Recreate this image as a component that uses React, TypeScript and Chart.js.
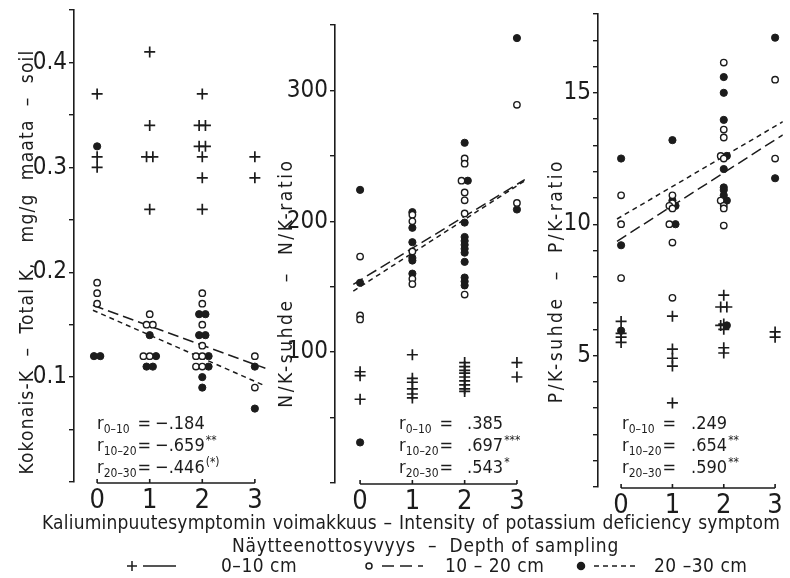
import React, { useEffect, useRef } from "react";
import { Chart, registerables } from "chart.js";

Chart.register(...registerables);

const FONT = "'DejaVu Sans Condensed', 'DejaVu Sans', sans-serif";
const TICK_FONT = "'Liberation Sans Narrow', 'DejaVu Sans Condensed', sans-serif";
const INK = "#1c1c1c";
const W = 790;
const H = 578;

// Intensity classes of the potassium deficiency symptom (x axis)
const intensityClasses = [0, 1, 2, 3];

// Total K, mg/g soil; one inner list per intensity class
const totalK_0_10 = [[0.37, 0.31, 0.3], [0.41, 0.34, 0.31, 0.31, 0.26], [0.37, 0.34, 0.34, 0.32, 0.32, 0.31, 0.29, 0.26], [0.31, 0.29]];
const totalK_10_20 = [[0.19, 0.18, 0.17], [0.16, 0.15, 0.15, 0.12, 0.12], [0.18, 0.17, 0.15, 0.13, 0.12, 0.12, 0.11, 0.11], [0.12, 0.09]];
const totalK_20_30 = [[0.32, 0.12, 0.12], [0.14, 0.12, 0.11, 0.11], [0.16, 0.16, 0.14, 0.14, 0.12, 0.11, 0.1, 0.09], [0.11, 0.07]];

// N/K ratio
const nk_0_10 = [[85, 82, 64], [98, 80, 77, 72, 68, 65], [92, 89, 86, 84, 81, 78, 75, 72, 70], [92, 81]];
const nk_10_20 = [[173, 128, 125], [205, 200, 177, 156, 152], [248, 244, 231, 222, 216, 206, 144], [289, 214]];
const nk_20_30 = [[224, 153, 31], [207, 195, 184, 172, 170, 160], [260, 231, 199, 188, 185, 182, 179, 176, 169, 157, 154, 151], [340, 209]];

// P/K ratio
const pk_0_10 = [[6.3, 5.85, 5.7, 5.5], [6.5, 5.25, 4.9, 4.6, 3.2], [7.3, 6.85, 6.85, 6.2, 6.15, 6.0, 5.3, 5.1], [5.9, 5.7]];
const pk_10_20 = [[11.1, 10.0, 7.95], [11.1, 10.8, 10.7, 10.6, 10.0, 9.3, 7.2], [16.15, 13.6, 13.3, 12.6, 12.5, 10.9, 10.7, 10.6, 9.95], [15.5, 12.5]];
const pk_20_30 = [[12.5, 9.2, 5.95], [13.2, 10.9, 10.7, 10.0], [15.6, 15.0, 13.97, 12.6, 12.1, 11.4, 11.3, 11.1, 10.9, 6.15], [17.1, 11.75]];

// Regression lines [intercept, slope] for the 10–20 cm and 20–30 cm layers
const totalKFit_10_20 = [0.167, -0.0183];
const totalKFit_20_30 = [0.162, -0.022];
const nkFit_10_20 = [155, 24.4];
const nkFit_20_30 = [150, 25.7];
const pkFit_10_20 = [9.45, 1.254];
const pkFit_20_30 = [10.29, 1.146];

// Correlation coefficients per sampling depth
const depthLabels = ["0–10", "10–20", "20–30"];
const totalKr = ["−.184", "−.659", "−.446"];
const totalKsig = ["", "**", "(*)"];
const nkR = [".385", ".697", ".543"];
const nkSig = ["", "***", "*"];
const pkR = [".249", ".654", ".590"];
const pkSig = ["", "**", "**"];

type Pt = { x: number; y: number };

// Places the three depth series on the class positions; equal values in one
// class are set side by side so every sample stays visible.
function placeSeries(series: number[][][]): Pt[][] {
  const out: Pt[][] = series.map(() => []);
  intensityClasses.forEach((cls, ci) => {
    const groups = new Map<string, { s: number; y: number }[]>();
    series.forEach((rows, s) => {
      (rows[ci] || []).forEach((y) => {
        const key = y.toFixed(3);
        if (!groups.has(key)) groups.set(key, []);
        groups.get(key)!.push({ s, y });
      });
    });
    groups.forEach((items) => {
      const n = items.length;
      items.forEach((it, k) => {
        out[it.s].push({ x: cls + (k - (n - 1) / 2) * 0.12, y: it.y });
      });
    });
  });
  return out;
}

function fitLine(fit: number[], range: [number, number]): Pt[] {
  return range.map((x) => ({ x, y: fit[0] + fit[1] * x }));
}

type PanelCfg = {
  series: number[][][];
  fits: number[][];
  fitRange: [number, number];
  left: number;
  right: number;
  top: number;
  bottom: number;
  xMin: number;
  xMax: number;
  yMax: number;
  yStep: number;
  labelEvery: number;
  decimals: number;
};

// Horizontal axis drawn only across the symptom classes, with short up-ticks
const bottomAxis = {
  id: "bottomAxis",
  afterDraw(chart: any) {
    const xs = chart.scales.x;
    const { ctx, chartArea } = chart;
    const y = chartArea.bottom + 1;
    ctx.save();
    ctx.strokeStyle = INK;
    ctx.lineWidth = 1.6;
    ctx.beginPath();
    ctx.moveTo(xs.getPixelForValue(intensityClasses[0]), y);
    ctx.lineTo(xs.getPixelForValue(intensityClasses[intensityClasses.length - 1]), y);
    intensityClasses.forEach((c) => {
      const px = xs.getPixelForValue(c);
      ctx.moveTo(px, y);
      ctx.lineTo(px, y - 4);
    });
    ctx.stroke();
    ctx.restore();
  },
};

function buildChart(canvas: HTMLCanvasElement, p: PanelCfg) {
  const placed = placeSeries(p.series);
  const datasets: any[] = [
    {
      data: placed[0],
      pointStyle: "cross",
      pointRadius: 5.5,
      pointBorderWidth: 1.7,
      pointBorderColor: INK,
      borderColor: INK,
      order: 0,
    },
    {
      data: placed[1],
      pointStyle: "circle",
      pointRadius: 3.2,
      pointBorderWidth: 1.4,
      pointBorderColor: INK,
      pointBackgroundColor: "#ffffff",
      borderColor: INK,
      order: 0,
    },
    {
      data: placed[2],
      pointStyle: "circle",
      pointRadius: 3.6,
      pointBorderWidth: 1,
      pointBorderColor: INK,
      pointBackgroundColor: INK,
      borderColor: INK,
      order: 0,
    },
    {
      data: fitLine(p.fits[0], p.fitRange),
      showLine: true,
      borderColor: INK,
      borderWidth: 1.5,
      borderDash: [11, 5],
      pointRadius: 0,
      order: 5,
    },
    {
      data: fitLine(p.fits[1], p.fitRange),
      showLine: true,
      borderColor: INK,
      borderWidth: 1.5,
      borderDash: [5, 4],
      pointRadius: 0,
      order: 5,
    },
  ];

  return new Chart(canvas, {
    type: "scatter",
    data: { datasets },
    plugins: [bottomAxis],
    options: {
      animation: false,
      responsive: false,
      events: [],
      layout: { padding: { top: p.top, left: 0, right: W - p.right, bottom: 0 } },
      plugins: { legend: { display: false }, tooltip: { enabled: false } },
      scales: {
        x: {
          type: "linear",
          min: p.xMin,
          max: p.xMax,
          afterFit: (s: any) => {
            s.height = H - p.bottom;
            s.paddingLeft = 0;
            s.paddingRight = 0;
          },
          border: { display: false },
          grid: { display: false, drawTicks: false },
          ticks: {
            stepSize: 1,
            includeBounds: false,
            autoSkip: false,
            maxRotation: 0,
            padding: 3,
            color: INK,
            font: { family: TICK_FONT, size: 27 },
            callback: (v: any) => (intensityClasses.includes(Number(v)) ? String(v) : ""),
          },
        },
        y: {
          type: "linear",
          min: 0,
          max: p.yMax,
          afterFit: (s: any) => {
            s.width = p.left;
            s.paddingTop = 0;
            s.paddingBottom = 0;
          },
          border: { display: true, color: INK, width: 1.6 },
          grid: { display: true, drawOnChartArea: false, drawTicks: true, tickLength: 5, color: INK, lineWidth: 1.4 },
          ticks: {
            stepSize: p.yStep,
            includeBounds: false,
            autoSkip: false,
            padding: 2,
            color: INK,
            font: { family: TICK_FONT, size: 24 },
            callback: (v: any) => {
              const n = Number(v);
              const r = Math.round(n / p.labelEvery);
              if (n > 0 && Math.abs(n - r * p.labelEvery) < 1e-6) return (r * p.labelEvery).toFixed(p.decimals);
              return "";
            },
          },
        },
      },
    },
  } as any);
}

const panels: PanelCfg[] = [
  {
    series: [totalK_0_10, totalK_10_20, totalK_20_30],
    fits: [totalKFit_10_20, totalKFit_20_30],
    fitRange: [-0.08, 3.2],
    left: 74, right: 268, top: 10, bottom: 482,
    xMin: -0.44, xMax: 3.25, yMax: 0.45, yStep: 0.05, labelEvery: 0.1, decimals: 1,
  },
  {
    series: [nk_0_10, nk_10_20, nk_20_30],
    fits: [nkFit_10_20, nkFit_20_30],
    fitRange: [-0.13, 3.15],
    left: 335, right: 530, top: 25, bottom: 483,
    xMin: -0.48, xMax: 3.25, yMax: 350, yStep: 50, labelEvery: 100, decimals: 0,
  },
  {
    series: [pk_0_10, pk_10_20, pk_20_30],
    fits: [pkFit_10_20, pkFit_20_30],
    fitRange: [-0.08, 3.15],
    left: 598, right: 790, top: 14, bottom: 487,
    xMin: -0.45, xMax: 3.15, yMax: 18, yStep: 1, labelEvery: 5, decimals: 0,
  },
];

function PanelCanvas({ cfg }: { cfg: PanelCfg }) {
  const ref = useRef<HTMLCanvasElement | null>(null);
  useEffect(() => {
    if (!ref.current) return;
    const chart = buildChart(ref.current, cfg);
    return () => chart.destroy();
  }, [cfg]);
  return <canvas ref={ref} width={W} height={H} style={{ position: "absolute", left: 0, top: 0, width: W, height: H }} />;
}

function AxisTitle({ cx, cy, len, text, spacing }: { cx: number; cy: number; len: number; text: string; spacing: number }) {
  return (
    <div
      style={{
        position: "absolute",
        left: cx - len / 2,
        top: cy - 12,
        width: len,
        height: 24,
        lineHeight: "24px",
        textAlign: "center",
        whiteSpace: "pre",
        fontSize: 19,
        letterSpacing: spacing,
        transform: "rotate(-90deg)",
        transformOrigin: "50% 50%",
      }}
    >
      {text}
    </div>
  );
}

function Stats({ left, top, values, sig, gap }: { left: number; top: number; values: string[]; sig: string[]; gap: number }) {
  return (
    <div
      style={{
        position: "absolute",
        left,
        top,
        display: "grid",
        gridTemplateColumns: "auto auto auto",
        fontSize: 18,
        lineHeight: "20px",
        whiteSpace: "pre",
      }}
    >
      {depthLabels.map((d, i) => (
        <React.Fragment key={d}>
          <span>
            r<span style={{ fontSize: 12, position: "relative", top: 4 }}>{d}</span>
          </span>
          <span style={{ paddingLeft: 1 }}>=</span>
          <span style={{ paddingLeft: gap }}>
            {values[i]}
            <span style={{ fontSize: 12, position: "relative", top: -7, paddingLeft: 1 }}>{sig[i]}</span>
          </span>
        </React.Fragment>
      ))}
    </div>
  );
}

function Legend() {
  const y = 566;
  return (
    <svg width={W} height={H} style={{ position: "absolute", left: 0, top: 0 }}>
      <g stroke={INK} strokeWidth={1.5} fill="none">
        <path d={`M${127} ${y} H${137} M${132} ${y - 5} V${y + 5}`} />
        <path d={`M143 ${y} H176`} />
        <circle cx={369} cy={y} r={3} fill="#fff" />
        <path d={`M382 ${y} H423`} strokeDasharray="12 6" />
        <circle cx={581} cy={y} r={3.5} fill={INK} />
        <path d={`M594 ${y} H639`} strokeDasharray="5 4" />
      </g>
      <g fill={INK} fontFamily={FONT} fontSize={19} letterSpacing={0.5}>
        <text x={221} y={y + 6}>0–10 cm</text>
        <text x={445} y={y + 6}>10 – 20 cm</text>
        <text x={654} y={y + 6}>20 –30 cm</text>
      </g>
    </svg>
  );
}

export default function App() {
  return (
    <div
      style={{
        position: "fixed",
        left: 0,
        top: 0,
        width: W,
        height: H,
        background: "#ffffff",
        fontFamily: FONT,
        color: INK,
        overflow: "hidden",
      }}
    >
      {panels.map((p, i) => (
        <PanelCanvas key={i} cfg={p} />
      ))}
      <AxisTitle cx={26} cy={262} len={430} spacing={1.2} text={"Kokonais-K  –  Total K,   mg/g  maata  –  soil"} />
      <AxisTitle cx={285} cy={283} len={260} spacing={2.6} text={"N/K-suhde  –  N/K-ratio"} />
      <AxisTitle cx={555} cy={281} len={260} spacing={2.6} text={"P/K-suhde  –  P/K-ratio"} />
      <Stats left={97} top={413} values={totalKr} sig={totalKsig} gap={4} />
      <Stats left={399} top={413} values={nkR} sig={nkSig} gap={14} />
      <Stats left={622} top={413} values={pkR} sig={pkSig} gap={15} />
      <div
        style={{
          position: "absolute",
          left: 42,
          top: 511,
          width: 738,
          height: 22,
          overflow: "hidden",
          fontSize: 19,
          lineHeight: "22px",
          letterSpacing: 0.2,
          textAlign: "justify",
          textAlignLast: "justify",
        }}
      >
        Kaliuminpuutesymptomin voimakkuus – Intensity of potassium deficiency symptom
      </div>
      <div
        style={{
          position: "absolute",
          left: 232,
          top: 534,
          fontSize: 19,
          lineHeight: "22px",
          letterSpacing: 0.7,
          whiteSpace: "pre",
        }}
      >
        {"Näytteenottosyvyys  –  Depth of sampling"}
      </div>
      <Legend />
    </div>
  );
}
